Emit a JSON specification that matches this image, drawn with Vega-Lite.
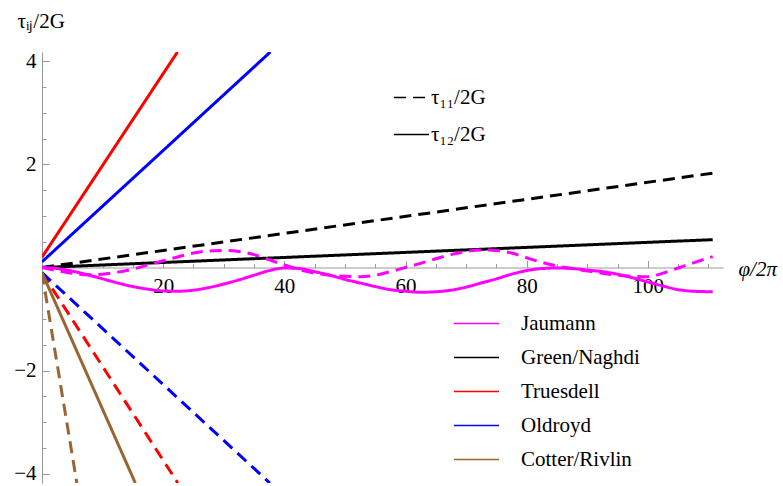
{
  "$schema": "https://vega.github.io/schema/vega-lite/v6.json",
  "width": 681,
  "height": 431,
  "autosize": {"type": "none"},
  "padding": {"left": 42, "top": 52, "right": 60, "bottom": 3},
  "background": "white",
  "config": {"view": {"stroke": null}, "font": "serif"},
  "datasets": {
    "lines": [
      {"m": "Truesdell", "c": "τ₁₂/2G", "x": 0, "y": 0.2},
      {"m": "Truesdell", "c": "τ₁₂/2G", "x": 22.36, "y": 4.18},
      {"m": "Oldroyd", "c": "τ₁₂/2G", "x": 0, "y": 0.11},
      {"m": "Oldroyd", "c": "τ₁₂/2G", "x": 37.69, "y": 4.18},
      {"m": "Truesdell", "c": "τ₁₁/2G", "x": 0, "y": -0.1},
      {"m": "Truesdell", "c": "τ₁₁/2G", "x": 22.42, "y": -4.18},
      {"m": "Oldroyd", "c": "τ₁₁/2G", "x": 0, "y": -0.1},
      {"m": "Oldroyd", "c": "τ₁₁/2G", "x": 37.6, "y": -4.18},
      {"m": "Cotter/Rivlin", "c": "τ₁₂/2G", "x": 0, "y": -0.1},
      {"m": "Cotter/Rivlin", "c": "τ₁₂/2G", "x": 15.4, "y": -4.18},
      {"m": "Cotter/Rivlin", "c": "τ₁₁/2G", "x": 0, "y": -0.1},
      {"m": "Cotter/Rivlin", "c": "τ₁₁/2G", "x": 5.75, "y": -4.18},
      {"m": "Green/Naghdi", "c": "τ₁₁/2G", "x": 0, "y": 0},
      {"m": "Green/Naghdi", "c": "τ₁₁/2G", "x": 110.7, "y": 1.83},
      {"m": "Green/Naghdi", "c": "τ₁₂/2G", "x": 0, "y": 0},
      {"m": "Green/Naghdi", "c": "τ₁₂/2G", "x": 110.7, "y": 0.54},
      {"m": "Jaumann", "c": "τ₁₂/2G", "x": 0, "y": 0},
      {"m": "Jaumann", "c": "τ₁₂/2G", "x": 2.5, "y": -0.02},
      {"m": "Jaumann", "c": "τ₁₂/2G", "x": 5, "y": -0.07},
      {"m": "Jaumann", "c": "τ₁₂/2G", "x": 7.5, "y": -0.14},
      {"m": "Jaumann", "c": "τ₁₂/2G", "x": 10, "y": -0.22},
      {"m": "Jaumann", "c": "τ₁₂/2G", "x": 12.5, "y": -0.3},
      {"m": "Jaumann", "c": "τ₁₂/2G", "x": 15, "y": -0.37},
      {"m": "Jaumann", "c": "τ₁₂/2G", "x": 17.5, "y": -0.42},
      {"m": "Jaumann", "c": "τ₁₂/2G", "x": 20, "y": -0.455},
      {"m": "Jaumann", "c": "τ₁₂/2G", "x": 22.5, "y": -0.46},
      {"m": "Jaumann", "c": "τ₁₂/2G", "x": 25, "y": -0.44},
      {"m": "Jaumann", "c": "τ₁₂/2G", "x": 27.5, "y": -0.39},
      {"m": "Jaumann", "c": "τ₁₂/2G", "x": 30, "y": -0.32},
      {"m": "Jaumann", "c": "τ₁₂/2G", "x": 32.5, "y": -0.24},
      {"m": "Jaumann", "c": "τ₁₂/2G", "x": 35, "y": -0.15},
      {"m": "Jaumann", "c": "τ₁₂/2G", "x": 37.5, "y": -0.06},
      {"m": "Jaumann", "c": "τ₁₂/2G", "x": 40, "y": -0.01},
      {"m": "Jaumann", "c": "τ₁₂/2G", "x": 42.5, "y": -0.02},
      {"m": "Jaumann", "c": "τ₁₂/2G", "x": 45, "y": -0.08},
      {"m": "Jaumann", "c": "τ₁₂/2G", "x": 47.5, "y": -0.15},
      {"m": "Jaumann", "c": "τ₁₂/2G", "x": 50, "y": -0.23},
      {"m": "Jaumann", "c": "τ₁₂/2G", "x": 52.5, "y": -0.3},
      {"m": "Jaumann", "c": "τ₁₂/2G", "x": 55, "y": -0.37},
      {"m": "Jaumann", "c": "τ₁₂/2G", "x": 57.5, "y": -0.43},
      {"m": "Jaumann", "c": "τ₁₂/2G", "x": 60, "y": -0.46},
      {"m": "Jaumann", "c": "τ₁₂/2G", "x": 62.5, "y": -0.48},
      {"m": "Jaumann", "c": "τ₁₂/2G", "x": 65, "y": -0.47},
      {"m": "Jaumann", "c": "τ₁₂/2G", "x": 67.5, "y": -0.44},
      {"m": "Jaumann", "c": "τ₁₂/2G", "x": 70, "y": -0.38},
      {"m": "Jaumann", "c": "τ₁₂/2G", "x": 72.5, "y": -0.3},
      {"m": "Jaumann", "c": "τ₁₂/2G", "x": 75, "y": -0.22},
      {"m": "Jaumann", "c": "τ₁₂/2G", "x": 77.5, "y": -0.13},
      {"m": "Jaumann", "c": "τ₁₂/2G", "x": 80, "y": -0.06},
      {"m": "Jaumann", "c": "τ₁₂/2G", "x": 82.5, "y": -0.02},
      {"m": "Jaumann", "c": "τ₁₂/2G", "x": 85, "y": -0.01},
      {"m": "Jaumann", "c": "τ₁₂/2G", "x": 87.5, "y": -0.02},
      {"m": "Jaumann", "c": "τ₁₂/2G", "x": 90, "y": -0.05},
      {"m": "Jaumann", "c": "τ₁₂/2G", "x": 92.5, "y": -0.08},
      {"m": "Jaumann", "c": "τ₁₂/2G", "x": 95, "y": -0.13},
      {"m": "Jaumann", "c": "τ₁₂/2G", "x": 97.5, "y": -0.2},
      {"m": "Jaumann", "c": "τ₁₂/2G", "x": 100, "y": -0.28},
      {"m": "Jaumann", "c": "τ₁₂/2G", "x": 102.5, "y": -0.36},
      {"m": "Jaumann", "c": "τ₁₂/2G", "x": 105, "y": -0.43},
      {"m": "Jaumann", "c": "τ₁₂/2G", "x": 107.5, "y": -0.46},
      {"m": "Jaumann", "c": "τ₁₂/2G", "x": 110.7, "y": -0.47},
      {"m": "Jaumann", "c": "τ₁₁/2G", "x": 0, "y": 0},
      {"m": "Jaumann", "c": "τ₁₁/2G", "x": 2.5, "y": -0.06},
      {"m": "Jaumann", "c": "τ₁₁/2G", "x": 5, "y": -0.11},
      {"m": "Jaumann", "c": "τ₁₁/2G", "x": 7.5, "y": -0.14},
      {"m": "Jaumann", "c": "τ₁₁/2G", "x": 10, "y": -0.13},
      {"m": "Jaumann", "c": "τ₁₁/2G", "x": 12.5, "y": -0.09},
      {"m": "Jaumann", "c": "τ₁₁/2G", "x": 15, "y": -0.03},
      {"m": "Jaumann", "c": "τ₁₁/2G", "x": 17.5, "y": 0.05},
      {"m": "Jaumann", "c": "τ₁₁/2G", "x": 20, "y": 0.13},
      {"m": "Jaumann", "c": "τ₁₁/2G", "x": 22.5, "y": 0.21},
      {"m": "Jaumann", "c": "τ₁₁/2G", "x": 25, "y": 0.28},
      {"m": "Jaumann", "c": "τ₁₁/2G", "x": 27.5, "y": 0.32},
      {"m": "Jaumann", "c": "τ₁₁/2G", "x": 30, "y": 0.33},
      {"m": "Jaumann", "c": "τ₁₁/2G", "x": 32.5, "y": 0.31},
      {"m": "Jaumann", "c": "τ₁₁/2G", "x": 35, "y": 0.25},
      {"m": "Jaumann", "c": "τ₁₁/2G", "x": 37.5, "y": 0.15},
      {"m": "Jaumann", "c": "τ₁₁/2G", "x": 40, "y": 0.05},
      {"m": "Jaumann", "c": "τ₁₁/2G", "x": 42.5, "y": -0.04},
      {"m": "Jaumann", "c": "τ₁₁/2G", "x": 45, "y": -0.11},
      {"m": "Jaumann", "c": "τ₁₁/2G", "x": 47.5, "y": -0.15},
      {"m": "Jaumann", "c": "τ₁₁/2G", "x": 50, "y": -0.17},
      {"m": "Jaumann", "c": "τ₁₁/2G", "x": 52.5, "y": -0.18},
      {"m": "Jaumann", "c": "τ₁₁/2G", "x": 55, "y": -0.15},
      {"m": "Jaumann", "c": "τ₁₁/2G", "x": 57.5, "y": -0.08},
      {"m": "Jaumann", "c": "τ₁₁/2G", "x": 60, "y": 0.0},
      {"m": "Jaumann", "c": "τ₁₁/2G", "x": 62.5, "y": 0.08},
      {"m": "Jaumann", "c": "τ₁₁/2G", "x": 65, "y": 0.17},
      {"m": "Jaumann", "c": "τ₁₁/2G", "x": 67.5, "y": 0.25},
      {"m": "Jaumann", "c": "τ₁₁/2G", "x": 70, "y": 0.31},
      {"m": "Jaumann", "c": "τ₁₁/2G", "x": 72.5, "y": 0.34},
      {"m": "Jaumann", "c": "τ₁₁/2G", "x": 75, "y": 0.33},
      {"m": "Jaumann", "c": "τ₁₁/2G", "x": 77.5, "y": 0.28},
      {"m": "Jaumann", "c": "τ₁₁/2G", "x": 80, "y": 0.19},
      {"m": "Jaumann", "c": "τ₁₁/2G", "x": 82.5, "y": 0.1},
      {"m": "Jaumann", "c": "τ₁₁/2G", "x": 85, "y": 0.03},
      {"m": "Jaumann", "c": "τ₁₁/2G", "x": 87.5, "y": -0.02},
      {"m": "Jaumann", "c": "τ₁₁/2G", "x": 90, "y": -0.07},
      {"m": "Jaumann", "c": "τ₁₁/2G", "x": 92.5, "y": -0.11},
      {"m": "Jaumann", "c": "τ₁₁/2G", "x": 95, "y": -0.15},
      {"m": "Jaumann", "c": "τ₁₁/2G", "x": 97.5, "y": -0.17},
      {"m": "Jaumann", "c": "τ₁₁/2G", "x": 100, "y": -0.18},
      {"m": "Jaumann", "c": "τ₁₁/2G", "x": 102.5, "y": -0.11},
      {"m": "Jaumann", "c": "τ₁₁/2G", "x": 105, "y": -0.01},
      {"m": "Jaumann", "c": "τ₁₁/2G", "x": 107.5, "y": 0.09},
      {"m": "Jaumann", "c": "τ₁₁/2G", "x": 110.7, "y": 0.21}
    ]
  },
  "data": {"name": "lines"},
  "mark": {"type": "line", "strokeWidth": 3, "clip": true, "interpolate": "monotone", "strokeCap": "butt"},
  "encoding": {
    "x": {
      "field": "x",
      "type": "quantitative",
      "scale": {"domain": [0, 112.4], "nice": false, "zero": false},
      "axis": {
        "orient": "bottom",
        "offset": -215.5,
        "values": [5, 10, 15, 20, 25, 30, 35, 40, 45, 50, 55, 60, 65, 70, 75, 80, 85, 90, 95, 100, 105, 110],
        "labelExpr": "datum.value % 20 === 0 ? format(datum.value, 'd') : ''",
        "tickSize": {"condition": {"test": "datum.value % 20 === 0", "value": -7}, "value": -4},
        "tickColor": "#999999",
        "domainColor": "#999999",
        "grid": false,
        "labelFont": "serif",
        "labelFontSize": 21,
        "labelColor": "black",
        "labelPadding": 15,
        "labelFlush": false,
        "labelOverlap": false,
        "title": "φ/2π",
        "titleFont": "serif",
        "titleFontSize": 21,
        "titleFontWeight": "normal",
        "titleFontStyle": "italic",
        "titleColor": "black",
        "titleX": 696,
        "titleY": 2,
        "titleAlign": "left",
        "titleBaseline": "middle",
        "titleAngle": 0
      }
    },
    "y": {
      "field": "y",
      "type": "quantitative",
      "scale": {"domain": [-4.18, 4.18], "nice": false, "zero": false},
      "axis": {
        "orient": "left",
        "values": [-4, -3.5, -3, -2.5, -2, -1.5, -1, -0.5, 0.5, 1, 1.5, 2, 2.5, 3, 3.5, 4],
        "labelExpr": "datum.value % 2 === 0 ? format(datum.value, 'd') : ''",
        "tickSize": {"condition": {"test": "datum.value % 2 === 0", "value": -7}, "value": -4},
        "tickColor": "#999999",
        "domainColor": "#999999",
        "grid": false,
        "labelFont": "serif",
        "labelFontSize": 21,
        "labelColor": "black",
        "labelPadding": 13,
        "labelFlush": false,
        "labelOverlap": false,
        "title": "τᵢⱼ/2G",
        "titleFont": "serif",
        "titleFontSize": 21,
        "titleFontWeight": "normal",
        "titleColor": "black",
        "titleAngle": 0,
        "titleX": -25,
        "titleY": -25,
        "titleAlign": "left",
        "titleBaseline": "alphabetic"
      }
    },
    "color": {
      "field": "m",
      "type": "nominal",
      "scale": {
        "domain": ["Jaumann", "Green/Naghdi", "Truesdell", "Oldroyd", "Cotter/Rivlin"],
        "range": ["#FF00FF", "#000000", "#FF0000", "#0000FF", "#996633"]
      },
      "legend": {
        "orient": "none",
        "legendX": 411,
        "legendY": 248,
        "title": null,
        "symbolType": "stroke",
        "symbolSize": 2025,
        "symbolStrokeWidth": 1.5,
        "labelFont": "serif",
        "labelFontSize": 21,
        "labelColor": "black",
        "labelOffset": 21,
        "rowPadding": -10,
        "labelLimit": 300
      }
    },
    "strokeDash": {
      "field": "c",
      "type": "nominal",
      "scale": {"domain": ["τ₁₁/2G", "τ₁₂/2G"], "range": [[12, 7], [1, 0]]},
      "legend": {
        "orient": "none",
        "legendX": 351,
        "legendY": 27,
        "title": null,
        "symbolType": "stroke",
        "symbolSize": 1225,
        "symbolStrokeColor": "black",
        "symbolStrokeWidth": 1.5,
        "labelFont": "serif",
        "labelFontSize": 21,
        "labelColor": "black",
        "labelOffset": 1,
        "rowPadding": 8,
        "labelLimit": 300
      }
    }
  }
}
